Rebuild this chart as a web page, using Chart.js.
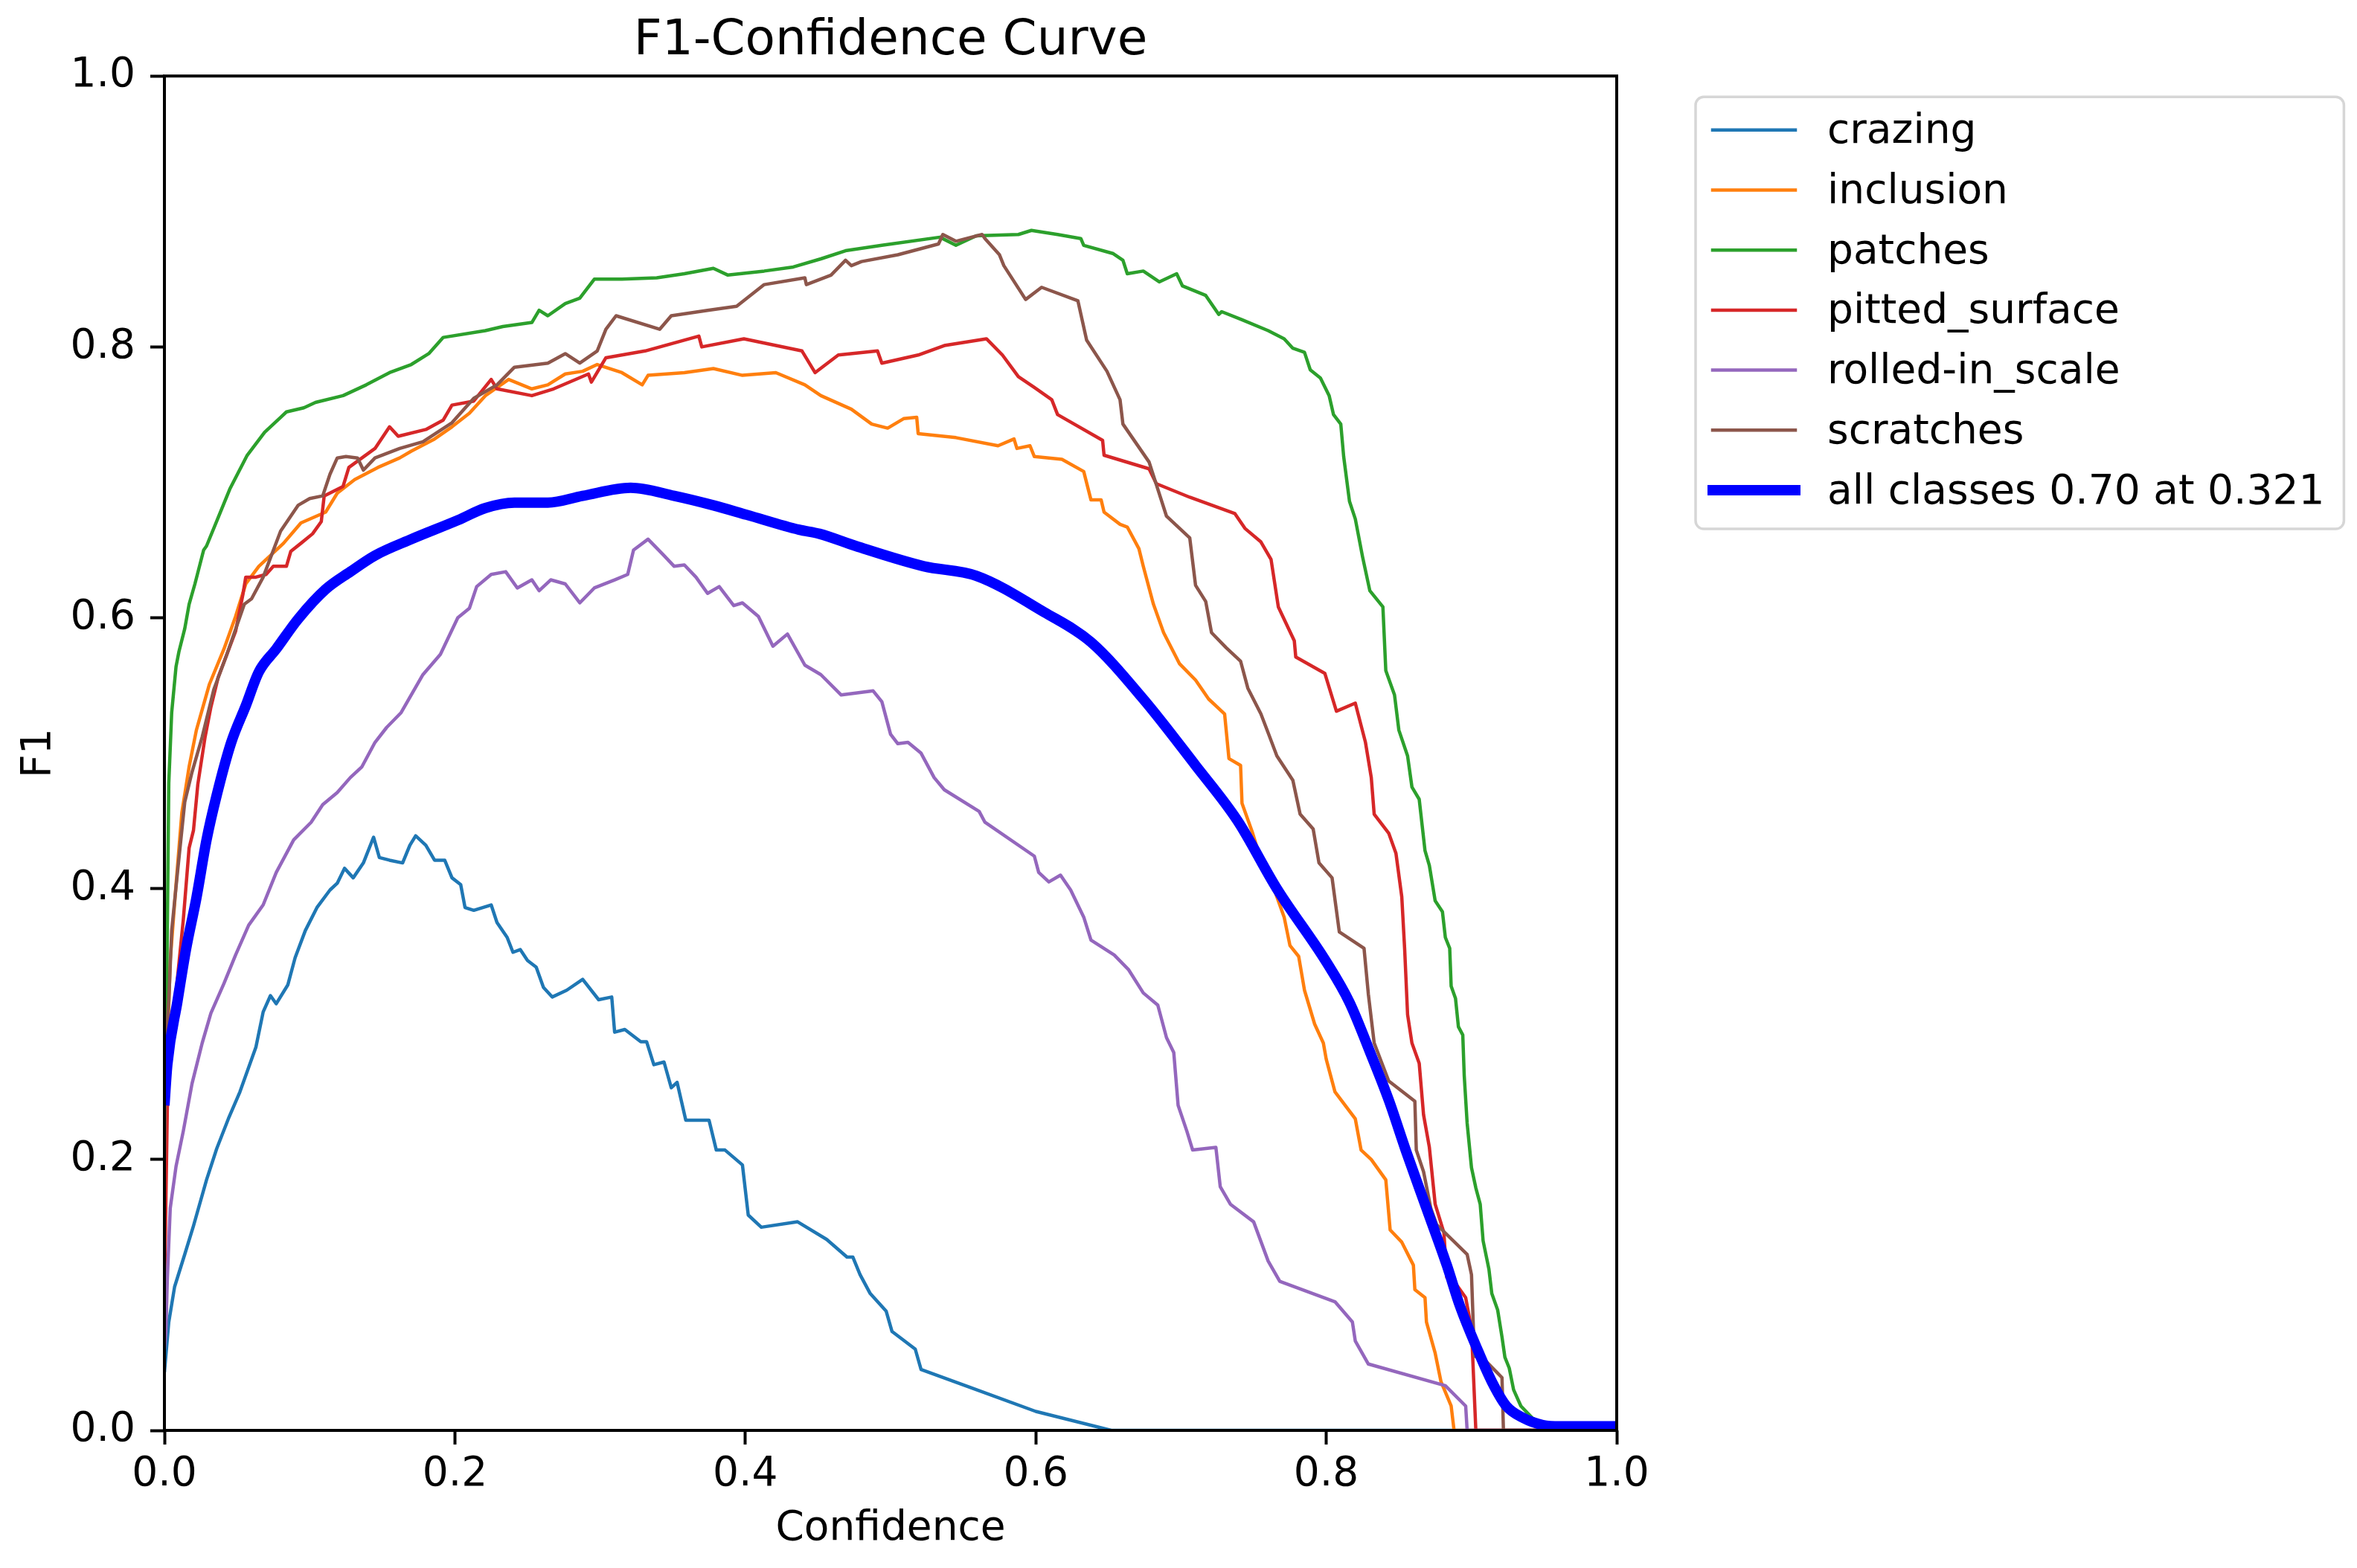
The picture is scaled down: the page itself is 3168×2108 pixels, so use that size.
<!DOCTYPE html>
<html>
<head>
<meta charset="utf-8">
<title>F1-Confidence Curve</title>
<script src="https://cdn.jsdelivr.net/npm/chart.js@4.4.1/dist/chart.umd.min.js"></script>
<style>
  html, body { margin: 0; padding: 0; background: #fff; }
  #wrap { width: 3168px; height: 2108px; }
</style>
</head>
<body>
<div id="wrap"><canvas id="chart"></canvas></div>
<script>
// [confidence, F1] pairs
const crazing = [
  [0, 0.043], [0.003, 0.08], [0.007, 0.106], [0.014, 0.13], [0.02, 0.151], [0.029, 0.185],
  [0.036, 0.208], [0.044, 0.23], [0.052, 0.25], [0.058, 0.268], [0.063, 0.283], [0.068, 0.309],
  [0.073, 0.321], [0.077, 0.315], [0.085, 0.329], [0.09, 0.349], [0.097, 0.369], [0.105, 0.386],
  [0.114, 0.399], [0.119, 0.404], [0.124, 0.415], [0.13, 0.408], [0.137, 0.419], [0.144, 0.438],
  [0.148, 0.423], [0.155, 0.421], [0.164, 0.419], [0.169, 0.432], [0.173, 0.439], [0.18, 0.432],
  [0.186, 0.421], [0.193, 0.421], [0.198, 0.408], [0.204, 0.403], [0.207, 0.386], [0.213, 0.384],
  [0.225, 0.388], [0.229, 0.375], [0.236, 0.364], [0.24, 0.353], [0.245, 0.355], [0.25, 0.347],
  [0.256, 0.342], [0.261, 0.327], [0.267, 0.32], [0.277, 0.325], [0.288, 0.333], [0.299, 0.318],
  [0.308, 0.32], [0.31, 0.294], [0.317, 0.296], [0.328, 0.287], [0.332, 0.287], [0.337, 0.27],
  [0.344, 0.272], [0.349, 0.253], [0.353, 0.257], [0.359, 0.229], [0.375, 0.229], [0.38, 0.207],
  [0.386, 0.207], [0.398, 0.196], [0.402, 0.159], [0.411, 0.15], [0.436, 0.154], [0.456, 0.141],
  [0.47, 0.128], [0.474, 0.128], [0.479, 0.115], [0.486, 0.101], [0.497, 0.088], [0.501, 0.073],
  [0.517, 0.06], [0.521, 0.045], [0.554, 0.032], [0.6, 0.014], [0.652, 0], [1, 0]
];

const inclusion = [
  [0, 0.15], [0.002, 0.282], [0.004, 0.347], [0.008, 0.403], [0.012, 0.456], [0.017, 0.49],
  [0.022, 0.517], [0.031, 0.551], [0.041, 0.577], [0.049, 0.601], [0.056, 0.625], [0.065, 0.638],
  [0.072, 0.645], [0.082, 0.655], [0.094, 0.67], [0.111, 0.678], [0.119, 0.692], [0.131, 0.702],
  [0.147, 0.711], [0.162, 0.718], [0.17, 0.723], [0.186, 0.732], [0.198, 0.741], [0.21, 0.751],
  [0.221, 0.764], [0.237, 0.776], [0.253, 0.769], [0.264, 0.772], [0.276, 0.78], [0.288, 0.782],
  [0.298, 0.787], [0.315, 0.781], [0.329, 0.772], [0.333, 0.779], [0.358, 0.781], [0.378, 0.784],
  [0.398, 0.779], [0.421, 0.781], [0.441, 0.772], [0.452, 0.764], [0.473, 0.754], [0.487, 0.743],
  [0.498, 0.74], [0.509, 0.747], [0.518, 0.748], [0.519, 0.736], [0.545, 0.733], [0.574, 0.727],
  [0.585, 0.732], [0.587, 0.725], [0.596, 0.727], [0.599, 0.719], [0.618, 0.717], [0.633, 0.708],
  [0.638, 0.687], [0.645, 0.687], [0.647, 0.678], [0.658, 0.669], [0.663, 0.667], [0.671, 0.651],
  [0.674, 0.638], [0.681, 0.61], [0.688, 0.589], [0.699, 0.566], [0.71, 0.554], [0.719, 0.54],
  [0.73, 0.529], [0.733, 0.496], [0.741, 0.491], [0.742, 0.463], [0.749, 0.442], [0.757, 0.414],
  [0.765, 0.397], [0.771, 0.379], [0.775, 0.358], [0.781, 0.35], [0.785, 0.325], [0.792, 0.3],
  [0.798, 0.286], [0.8, 0.274], [0.806, 0.25], [0.82, 0.23], [0.824, 0.207], [0.831, 0.2],
  [0.841, 0.185], [0.844, 0.148], [0.852, 0.139], [0.86, 0.122], [0.861, 0.104], [0.868, 0.098],
  [0.869, 0.08], [0.875, 0.057], [0.879, 0.036], [0.886, 0.018], [0.888, 0], [1, 0]
];

const patches = [
  [0, 0.25], [0.001, 0.282], [0.002, 0.369], [0.003, 0.478], [0.005, 0.53], [0.008, 0.564],
  [0.01, 0.575], [0.014, 0.592], [0.017, 0.61], [0.021, 0.625], [0.027, 0.65], [0.029, 0.653],
  [0.037, 0.674], [0.045, 0.695], [0.057, 0.72], [0.069, 0.737], [0.08, 0.748], [0.084, 0.752],
  [0.096, 0.755], [0.104, 0.759], [0.123, 0.764], [0.139, 0.772], [0.155, 0.781], [0.17, 0.787],
  [0.182, 0.795], [0.192, 0.807], [0.221, 0.812], [0.233, 0.815], [0.253, 0.818], [0.258, 0.827],
  [0.264, 0.823], [0.276, 0.832], [0.286, 0.836], [0.296, 0.85], [0.315, 0.85], [0.339, 0.851],
  [0.358, 0.854], [0.378, 0.858], [0.388, 0.853], [0.413, 0.856], [0.433, 0.859], [0.452, 0.865],
  [0.469, 0.871], [0.494, 0.875], [0.534, 0.881], [0.545, 0.875], [0.559, 0.882], [0.588, 0.883],
  [0.597, 0.886], [0.615, 0.883], [0.631, 0.88], [0.633, 0.875], [0.653, 0.869], [0.66, 0.864],
  [0.663, 0.854], [0.674, 0.856], [0.685, 0.848], [0.697, 0.854], [0.701, 0.845], [0.717, 0.838],
  [0.726, 0.824], [0.728, 0.826], [0.742, 0.82], [0.76, 0.812], [0.771, 0.806], [0.777, 0.799],
  [0.785, 0.796], [0.789, 0.783], [0.796, 0.777], [0.802, 0.764], [0.805, 0.75], [0.81, 0.743],
  [0.812, 0.719], [0.816, 0.686], [0.82, 0.673], [0.825, 0.645], [0.83, 0.62], [0.839, 0.608],
  [0.841, 0.561], [0.847, 0.543], [0.85, 0.517], [0.856, 0.498], [0.859, 0.475], [0.864, 0.466],
  [0.868, 0.428], [0.871, 0.417], [0.875, 0.391], [0.88, 0.383], [0.882, 0.364], [0.885, 0.356],
  [0.886, 0.328], [0.889, 0.319], [0.891, 0.298], [0.894, 0.292], [0.895, 0.262], [0.897, 0.227],
  [0.9, 0.194], [0.903, 0.179], [0.906, 0.167], [0.908, 0.14], [0.912, 0.119], [0.914, 0.101],
  [0.918, 0.089], [0.921, 0.069], [0.923, 0.054], [0.926, 0.046], [0.929, 0.03], [0.934, 0.018],
  [0.942, 0.009], [0.951, 0.004], [0.97, 0.001], [1, 0]
];

const pittedSurface = [
  [0, 0.1], [0.002, 0.238], [0.004, 0.282], [0.009, 0.334], [0.013, 0.377], [0.017, 0.43],
  [0.02, 0.443], [0.023, 0.477], [0.028, 0.512], [0.032, 0.534], [0.037, 0.556], [0.043, 0.573],
  [0.049, 0.59], [0.054, 0.617], [0.056, 0.63], [0.063, 0.63], [0.07, 0.632], [0.075, 0.638],
  [0.084, 0.638], [0.087, 0.649], [0.094, 0.655], [0.102, 0.662], [0.108, 0.671], [0.11, 0.69],
  [0.123, 0.697], [0.127, 0.711], [0.145, 0.725], [0.155, 0.741], [0.161, 0.734], [0.18, 0.739],
  [0.192, 0.746], [0.198, 0.757], [0.213, 0.76], [0.225, 0.776], [0.229, 0.769], [0.253, 0.764],
  [0.268, 0.769], [0.292, 0.78], [0.294, 0.774], [0.304, 0.792], [0.331, 0.797], [0.368, 0.808],
  [0.37, 0.8], [0.399, 0.806], [0.439, 0.797], [0.448, 0.781], [0.464, 0.794], [0.491, 0.797],
  [0.494, 0.788], [0.519, 0.794], [0.537, 0.801], [0.566, 0.806], [0.577, 0.794], [0.588, 0.778],
  [0.599, 0.77], [0.611, 0.761], [0.615, 0.75], [0.646, 0.731], [0.647, 0.72], [0.678, 0.71],
  [0.683, 0.699], [0.706, 0.689], [0.737, 0.677], [0.744, 0.666], [0.755, 0.656], [0.762, 0.643],
  [0.767, 0.608], [0.778, 0.583], [0.779, 0.571], [0.799, 0.559], [0.807, 0.531], [0.82, 0.537],
  [0.827, 0.508], [0.831, 0.482], [0.833, 0.455], [0.843, 0.441], [0.848, 0.426], [0.852, 0.394],
  [0.854, 0.355], [0.856, 0.307], [0.859, 0.286], [0.864, 0.271], [0.867, 0.233], [0.871, 0.209],
  [0.875, 0.167], [0.881, 0.146], [0.883, 0.113], [0.89, 0.107], [0.896, 0.098], [0.9, 0.075],
  [0.903, 0], [1, 0]
];

const rolledInScale = [
  [0, 0.06], [0.001, 0.073], [0.002, 0.112], [0.004, 0.164], [0.008, 0.195], [0.013, 0.221],
  [0.019, 0.256], [0.026, 0.286], [0.032, 0.308], [0.041, 0.33], [0.049, 0.351], [0.058, 0.373],
  [0.068, 0.388], [0.077, 0.412], [0.089, 0.436], [0.101, 0.449], [0.109, 0.462], [0.119, 0.471],
  [0.128, 0.482], [0.136, 0.49], [0.145, 0.508], [0.153, 0.519], [0.163, 0.53], [0.178, 0.558],
  [0.19, 0.573], [0.202, 0.6], [0.21, 0.607], [0.215, 0.623], [0.225, 0.632], [0.235, 0.634],
  [0.243, 0.622], [0.253, 0.628], [0.258, 0.62], [0.266, 0.628], [0.276, 0.625], [0.286, 0.611],
  [0.296, 0.622], [0.31, 0.628], [0.319, 0.632], [0.323, 0.65], [0.333, 0.658], [0.343, 0.647],
  [0.351, 0.638], [0.358, 0.639], [0.366, 0.63], [0.374, 0.618], [0.382, 0.623], [0.392, 0.609],
  [0.398, 0.611], [0.409, 0.601], [0.419, 0.579], [0.429, 0.588], [0.441, 0.565], [0.452, 0.558],
  [0.466, 0.543], [0.488, 0.546], [0.494, 0.538], [0.5, 0.514], [0.505, 0.507], [0.512, 0.508],
  [0.521, 0.5], [0.53, 0.482], [0.537, 0.473], [0.561, 0.457], [0.565, 0.449], [0.599, 0.424],
  [0.602, 0.412], [0.609, 0.405], [0.617, 0.41], [0.624, 0.399], [0.633, 0.379], [0.638, 0.362],
  [0.654, 0.351], [0.664, 0.34], [0.674, 0.323], [0.684, 0.314], [0.69, 0.29], [0.695, 0.279],
  [0.698, 0.24], [0.704, 0.221], [0.708, 0.207], [0.724, 0.209], [0.727, 0.18], [0.734, 0.167],
  [0.75, 0.154], [0.76, 0.125], [0.768, 0.11], [0.806, 0.095], [0.818, 0.08], [0.82, 0.066],
  [0.829, 0.049], [0.882, 0.033], [0.896, 0.018], [0.897, 0], [1, 0]
];

const scratches = [
  [0, 0.2], [0.001, 0.282], [0.003, 0.317], [0.005, 0.369], [0.009, 0.412], [0.014, 0.464],
  [0.019, 0.486], [0.026, 0.512], [0.034, 0.547], [0.043, 0.573], [0.055, 0.61], [0.06, 0.614],
  [0.068, 0.63], [0.08, 0.664], [0.092, 0.683], [0.1, 0.688], [0.109, 0.69], [0.114, 0.706],
  [0.119, 0.718], [0.125, 0.719], [0.133, 0.718], [0.137, 0.709], [0.145, 0.718], [0.162, 0.725],
  [0.178, 0.73], [0.198, 0.744], [0.213, 0.762], [0.229, 0.772], [0.241, 0.785], [0.264, 0.788],
  [0.276, 0.795], [0.286, 0.788], [0.298, 0.797], [0.304, 0.813], [0.311, 0.823], [0.341, 0.813],
  [0.349, 0.823], [0.374, 0.827], [0.394, 0.83], [0.413, 0.846], [0.441, 0.851], [0.442, 0.846],
  [0.459, 0.853], [0.469, 0.864], [0.473, 0.86], [0.48, 0.863], [0.505, 0.868], [0.533, 0.876],
  [0.536, 0.883], [0.545, 0.878], [0.563, 0.883], [0.565, 0.88], [0.575, 0.868], [0.578, 0.86],
  [0.593, 0.835], [0.604, 0.844], [0.629, 0.834], [0.635, 0.805], [0.649, 0.782], [0.658, 0.761],
  [0.66, 0.743], [0.678, 0.715], [0.69, 0.675], [0.706, 0.659], [0.71, 0.624], [0.717, 0.612],
  [0.721, 0.589], [0.731, 0.578], [0.741, 0.568], [0.746, 0.548], [0.755, 0.529], [0.76, 0.515],
  [0.766, 0.498], [0.777, 0.48], [0.782, 0.455], [0.791, 0.444], [0.795, 0.419], [0.804, 0.408],
  [0.809, 0.368], [0.826, 0.356], [0.829, 0.322], [0.833, 0.286], [0.843, 0.258], [0.861, 0.243],
  [0.862, 0.207], [0.867, 0.191], [0.872, 0.164], [0.876, 0.152], [0.897, 0.13], [0.9, 0.115],
  [0.902, 0.055], [0.91, 0.051], [0.921, 0.039], [0.922, 0], [1, 0]
];

const allClasses = [
  [0, 0.24], [0.002, 0.27], [0.009, 0.317], [0.015, 0.356], [0.022, 0.393], [0.029, 0.436],
  [0.036, 0.469], [0.046, 0.508], [0.056, 0.535], [0.065, 0.56], [0.077, 0.577], [0.092, 0.599],
  [0.111, 0.621], [0.128, 0.634], [0.145, 0.646], [0.17, 0.658], [0.202, 0.672], [0.221, 0.681],
  [0.241, 0.685], [0.264, 0.685], [0.288, 0.69], [0.321, 0.696], [0.351, 0.69], [0.378, 0.683],
  [0.401, 0.676], [0.437, 0.665], [0.451, 0.662], [0.476, 0.653], [0.523, 0.638], [0.559, 0.631],
  [0.606, 0.604], [0.638, 0.582], [0.674, 0.54], [0.71, 0.491], [0.739, 0.45], [0.766, 0.4],
  [0.8, 0.346], [0.816, 0.316], [0.831, 0.277], [0.843, 0.244], [0.855, 0.206], [0.869, 0.164],
  [0.883, 0.122], [0.892, 0.092], [0.904, 0.06], [0.914, 0.036], [0.924, 0.018], [0.936, 0.009],
  [0.949, 0.004], [0.961, 0.003], [1, 0.003]
];

const classNames = ['crazing', 'inclusion', 'patches', 'pitted_surface', 'rolled-in_scale', 'scratches'];
const classSeries = [crazing, inclusion, patches, pittedSurface, rolledInScale, scratches];
const classColors = ['#1f77b4', '#ff7f0e', '#2ca02c', '#d62728', '#9467bd', '#8c564b'];
const allLabel = 'all classes 0.70 at 0.321';
const axisTicks = [0, 0.2, 0.4, 0.6, 0.8, 1.0];

const FONT = 'DejaVu Sans';
Chart.defaults.font.family = FONT;
Chart.defaults.color = '#000';

function toPoints(pairs) {
  return pairs.map(p => ({ x: p[0], y: p[1] }));
}

// Matplotlib style legend box outside the axes, upper left of the free area
const boxedLegend = {
  id: 'boxedLegend',
  afterDraw(chart) {
    const ctx = chart.ctx;
    const area = chart.chartArea;
    const sets = chart.data.datasets;
    const left = area.right + 106;
    const top = area.top + 28;
    const rowH = 80.7;

    ctx.save();
    ctx.font = '55px "' + FONT + '"';
    let textW = 0;
    sets.forEach(ds => { textW = Math.max(textW, ctx.measureText(ds.label).width); });
    const width = 177 + textW + 26;
    const height = rowH * sets.length + 16;

    ctx.beginPath();
    ctx.roundRect(left, top, width, height, 11);
    ctx.fillStyle = 'rgba(255,255,255,0.8)';
    ctx.fill();
    ctx.lineWidth = 3.5;
    ctx.strokeStyle = '#d6d6d6';
    ctx.stroke();

    sets.forEach((ds, i) => {
      const cy = top + 44.6 + i * rowH;
      ctx.beginPath();
      ctx.lineCap = 'square';
      ctx.lineWidth = ds.borderWidth;
      ctx.strokeStyle = ds.borderColor;
      ctx.moveTo(left + 23, cy);
      ctx.lineTo(left + 134, cy);
      ctx.stroke();
      ctx.fillStyle = '#000';
      ctx.textBaseline = 'alphabetic';
      ctx.textAlign = 'left';
      ctx.fillText(ds.label, left + 177, cy + 17.5);
    });
    ctx.restore();
  }
};

// Axes frame on all four sides, over the curves
const axesFrame = {
  id: 'axesFrame',
  afterDatasetsDraw(chart) {
    const { ctx, chartArea: a } = chart;
    ctx.save();
    ctx.lineWidth = 4;
    ctx.strokeStyle = '#000';
    ctx.strokeRect(a.left, a.top, a.right - a.left, a.bottom - a.top);
    ctx.restore();
  }
};

const datasets = classNames.map((name, i) => ({
  label: name,
  data: toPoints(classSeries[i]),
  borderColor: classColors[i],
  backgroundColor: classColors[i],
  borderWidth: 4.5,
  borderJoinStyle: 'round',
  pointRadius: 0,
  tension: 0,
  order: 10 - i
}));

datasets.push({
  label: allLabel,
  data: toPoints(allClasses),
  borderColor: '#0000ff',
  backgroundColor: '#0000ff',
  borderWidth: 14,
  borderJoinStyle: 'round',
  pointRadius: 0,
  cubicInterpolationMode: 'monotone',
  order: 1
});

function axisOptions(titleText, titlePadding, fitSize) {
  return {
    type: 'linear',
    min: 0,
    max: 1,
    afterBuildTicks: scale => { scale.ticks = axisTicks.map(v => ({ value: v })); },
    afterFit: fitSize,
    grid: {
      drawOnChartArea: false,
      drawTicks: true,
      tickLength: 19,
      tickWidth: 4,
      tickColor: '#000'
    },
    border: { display: false },
    ticks: {
      font: { size: 55 },
      color: '#000',
      padding: 20,
      maxRotation: 0,
      callback: v => Number(v).toFixed(1)
    },
    title: {
      display: true,
      text: titleText,
      font: { size: 55 },
      color: '#000',
      padding: titlePadding
    }
  };
}

const xAxis = axisOptions('Confidence', { top: 4, bottom: 19 }, scale => { scale.height = 185; });
xAxis.ticks.padding = 8;
const yAxis = axisOptions('F1', { top: 20, bottom: 4 }, scale => { scale.width = 221; });

new Chart(document.getElementById('chart'), {
  type: 'line',
  data: { datasets: datasets },
  options: {
    responsive: true,
    maintainAspectRatio: false,
    animation: false,
    events: [],
    layout: { padding: { left: 0, right: 995, top: 0, bottom: 0 } },
    plugins: {
      legend: { display: false },
      tooltip: { enabled: false },
      title: {
        display: true,
        fullSize: false,
        text: 'F1-Confidence Curve',
        font: { size: 66, weight: 'normal' },
        color: '#000',
        padding: { top: 16, bottom: 7 }
      }
    },
    scales: { x: xAxis, y: yAxis }
  },
  plugins: [axesFrame, boxedLegend]
});
</script>
</body>
</html>
